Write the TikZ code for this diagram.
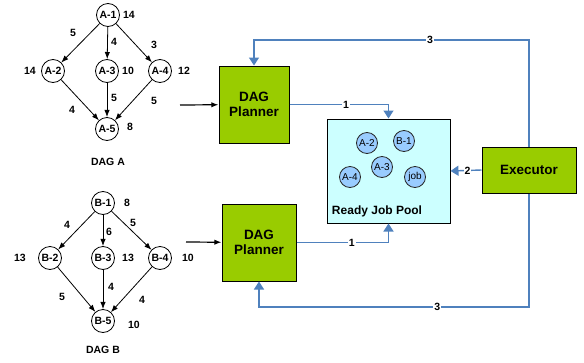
\documentclass[tikz,border=0pt]{standalone}
\usepackage{fontspec}
\setmainfont{Liberation Sans}
\usepackage{tikz}
\usetikzlibrary{arrows.meta, positioning}
\definecolor{planGreen}{HTML}{99CC00}
\definecolor{poolCyan}{HTML}{CCFFFF}
\definecolor{jobBlue}{HTML}{99CCFF}
\definecolor{flowBlue}{HTML}{4F81BD}
\tikzstyle{task} = [circle, draw, line width=0.8pt, minimum size=23pt, inner sep=0pt, font=\fontsize{10.5}{11}\selectfont\bfseries]
\tikzstyle{job} = [circle, draw=black!85, line width=0.8pt, fill=jobBlue, minimum size=21pt, inner sep=0pt, font=\fontsize{10}{11}\selectfont]
\tikzstyle{num} = [inner sep=1pt, font=\fontsize{10.5}{11}\selectfont\bfseries]
\tikzstyle{block} = [rectangle, draw, line width=1pt, fill=planGreen, align=center, font=\fontsize{13.5}{15}\selectfont\bfseries]
\tikzstyle{arrow} = [-{Latex[length=2.5mm]}, line width=0.8pt]
\tikzstyle{flow} = [-{Triangle[length=8pt,width=10pt]}, flowBlue, line width=1.4pt]
\tikzstyle{flownum} = [fill=white, inner sep=1pt, text=black, font=\fontsize{10.5}{11}\selectfont\bfseries]

\begin{document}
\begin{tikzpicture}[x=1pt, y=-1pt]
\useasboundingbox (0,0) rectangle (584,362);

% DAG A
\node[task] (A1) at (108,15) {A-1};
\node[task] (A2) at (53,71) {A-2};
\node[task] (A3) at (107,71) {A-3};
\node[task] (A4) at (160,71) {A-4};
\node[task] (A5) at (107,129) {A-5};

\node[num] at (129,15) {14};
\node[num] at (30,71) {14};
\node[num] at (128,71) {10};
\node[num] at (184,71) {12};
\node[num] at (130,127) {8};

\draw[arrow] (A1) -- (A2);
\draw[arrow] (A1) -- (A3);
\draw[arrow] (A1) -- (A4);
\draw[arrow] (A2) -- (A5);
\draw[arrow] (A3) -- (A5);
\draw[arrow] (A4) -- (A5);

\node[num] at (73,33) {5};
\node[num] at (114,42) {4};
\node[num] at (154,45) {3};
\node[num] at (72,110) {4};
\node[num] at (114,98) {5};
\node[num] at (154,101) {5};
\node[num] (dagA) at (108,162) {DAG A};

% DAG B
\node[task] (B1) at (103,203) {B-1};
\node[task] (B2) at (50,258) {B-2};
\node[task] (B3) at (103,258) {B-3};
\node[task] (B4) at (160,258) {B-4};
\node[task] (B5) at (103,321) {B-5};

\node[num] at (127,203) {8};
\node[num] at (20,258) {13};
\node[num] at (128,258) {13};
\node[num] at (188,258) {10};
\node[num] at (134,325) {10};

\draw[arrow] (B1) -- (B2);
\draw[arrow] (B1) -- (B3);
\draw[arrow] (B1) -- (B4);
\draw[arrow] (B2) -- (B5);
\draw[arrow] (B3) -- (B5);
\draw[arrow] (B4) -- (B5);

\node[num] at (67,225) {4};
\node[num] at (109,232) {6};
\node[num] at (133,223) {5};
\node[num] at (62,297) {5};
\node[num] at (111,287) {4};
\node[num] at (142,300) {4};
\node[num] (dagB) at (103,350) {DAG B};

% planners, pool, executor
\node[block, minimum width=70pt, minimum height=77pt] (planA) at (254,104.5) {DAG\\Planner};
\node[block, minimum width=74pt, minimum height=77pt] (planB) at (259,242.5) {DAG\\Planner};
\node[rectangle, draw, line width=1pt, fill=poolCyan, minimum width=123pt, minimum height=104pt] (pool) at (388.5,171) {};
\node[block, minimum width=94pt, minimum height=46pt] (exec) at (529,170) {Executor};

\node[num, font=\fontsize{12}{13}\selectfont\bfseries] (poolname) at (377,211) {Ready Job Pool};
\node[job] (jA2) at (367,143) {A-2};
\node[job] (jB1) at (404,141) {B-1};
\node[job] (jA3) at (382,167) {A-3};
\node[job] (jA4) at (350,177) {A-4};
\node[job] (jjob) at (415,177) {job};

% DAG in
\coordinate (inA) at (180,105);
\coordinate (inB) at (186,242);
\draw[arrow, line width=1.2pt] (inA) -- (planA);
\draw[arrow, line width=1.2pt] (inB) -- (planB);

% flows
\coordinate (top3) at (254,40);
\coordinate (bot3) at (259,307);
\draw[flow] (planA.east) -| node[flownum, pos=0.285] {1} (pool.north);
\draw[flow] (planB.east) -| node[flownum, pos=0.3] {1} (pool.south);
\draw[flow] (exec.west) -- node[flownum, pos=0.45] {2} (pool.east);
\draw[flow] (exec.north) |- node[flownum, pos=0.68] {3} (top3) -- (planA.north);
\draw[flow] (exec.south) |- node[flownum, pos=0.67] {3} (bot3) -- (planB.south);

\end{tikzpicture}
\end{document}
